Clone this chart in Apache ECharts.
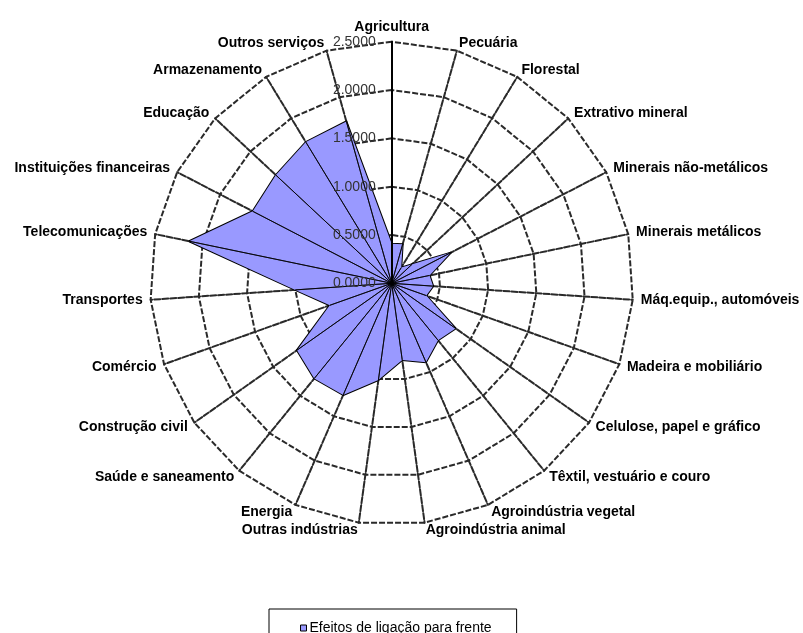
<!DOCTYPE html>
<html>
<head>
<meta charset="utf-8">
<script src="https://cdn.jsdelivr.net/npm/echarts@6/dist/echarts.min.js"></script>
<style>
html,body{margin:0;padding:0;background:#fff;}
#chart{width:803px;height:633px;}
</style>
</head>
<body>
<div id="chart"></div>
<script>
// Categories, clockwise from the top (as in the reference)
const categories = [
  'Agricultura', 'Pecuária', 'Florestal', 'Extrativo mineral',
  'Minerais não-metálicos', 'Minerais metálicos', 'Máq.equip., automóveis',
  'Madeira e mobiliário', 'Celulose, papel e gráfico', 'Têxtil, vestuário e couro',
  'Agroindústria vegetal', 'Agroindústria animal', 'Outras indústrias', 'Energia',
  'Saúde e saneamento', 'Construção civil', 'Comércio', 'Transportes',
  'Telecomunicações', 'Instituições financeiras', 'Educação', 'Armazenamento',
  'Outros serviços'
];
// Forward linkage effects (same order as categories)
const forwardLinkage = [
  0.41, 0.42, 0.19, 0.29,
  0.69, 0.40, 0.43,
  0.38, 0.81, 0.76,
  0.89, 0.80, 1.01, 1.26,
  1.27, 1.20, 0.68, 1.00,
  2.14, 1.62, 1.64, 1.71,
  1.74
];
const seriesName = 'Efeitos de ligação para frente';
const axisMin = 0, axisMax = 2.5, axisStep = 0.5;

// ECharts lays radar indicators counter-clockwise: reorder to get clockwise
function toCcw(arr) { return [arr[0]].concat(arr.slice(1).reverse()); }
const indNames = toCcw(categories);
const indValues = toCcw(forwardLinkage);

const CX = 391.7, CY = 283.3, R = 241.6;
const font = "'Liberation Sans', Arial, sans-serif";

const spokeSeries = indValues.map((v, i) => ({
  type: 'radar',
  name: 'spoke' + i,
  silent: true,
  symbol: 'none',
  lineStyle: { color: '#000', width: 0.8 },
  areaStyle: { opacity: 0 },
  data: [{ value: indValues.map((w, j) => (j === i ? v : 0)) }]
}));

const gridLine = { color: '#2a2a2a', type: [6, 2], width: 2 };

const chart = echarts.init(document.getElementById('chart'), null, { renderer: 'canvas' });
chart.setOption({
  backgroundColor: '#fff',
  animation: false,
  legend: {
    data: [seriesName],
    left: 269, top: 609,
    padding: [12, 25, 12, 31],
    borderColor: '#000', borderWidth: 1,
    icon: 'rect', itemWidth: 6, itemHeight: 6,
    itemStyle: { borderColor: '#000', borderWidth: 1 },
    textStyle: { fontFamily: font, fontSize: 14, color: '#000', padding: [0, 0, 0, -2] }
  },
  radar: {
    center: [CX, CY],
    radius: R,
    startAngle: 90,
    shape: 'polygon',
    splitNumber: 5,
    nameGap: 8,
    indicator: indNames.map(n => ({ name: n, min: axisMin, max: axisMax })),
    axisName: { color: '#000', fontWeight: 'bold', fontSize: 14, fontFamily: font },
    splitArea: { show: false },
    splitLine: { lineStyle: gridLine },
    axisLine: { lineStyle: gridLine },
    axisTick: { show: false },
    axisLabel: { show: false }
  },
  grid: { left: CX, top: CY - R, width: 1, height: R, containLabel: false },
  xAxis: { type: 'value', show: false },
  yAxis: {
    type: 'value', min: axisMin, max: axisMax, interval: axisStep, z: 10,
    axisLine: { show: true, lineStyle: { color: '#000', width: 2 } },
    axisTick: { show: false },
    splitLine: { show: false },
    axisLabel: { margin: 16, color: '#333', fontSize: 14, fontFamily: font,
      formatter: v => v.toFixed(4) }
  },
  series: [{
    type: 'radar',
    name: seriesName,
    symbol: 'none',
    itemStyle: { color: '#9999FF' },
    lineStyle: { color: '#000', width: 2 },
    areaStyle: { color: '#9999FF', opacity: 1 },
    data: [{ value: indValues, name: seriesName }]
  }].concat(spokeSeries)
});
</script>
</body>
</html>
